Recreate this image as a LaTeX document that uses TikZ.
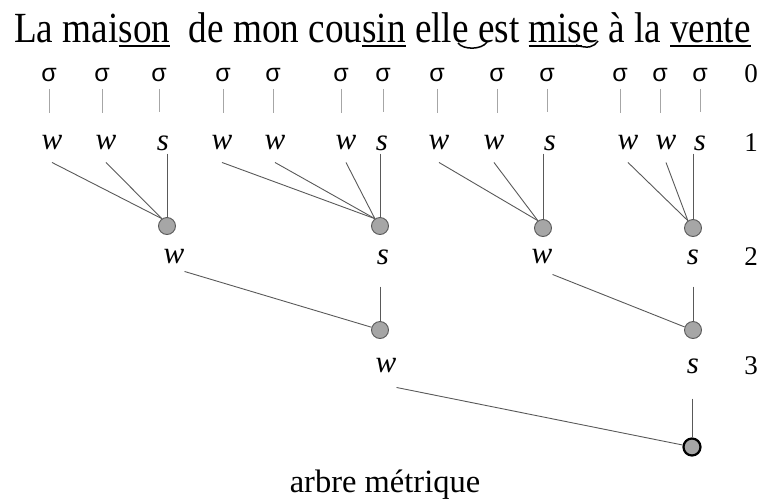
\documentclass[tikz,border=0pt]{standalone}
\usepackage{fontspec}
\usepackage{graphicx}
\setmainfont{Liberation Serif}
\newfontfamily\sigmafont{Liberation Sans}
\usetikzlibrary{calc}

\newcommand\souligne[1]{\setbox0\hbox{#1}\rlap{\rule[-5pt]{\wd0}{1.8pt}}\box0\relax}

\tikzset{
  syl/.style={font=\sigmafont\fontsize{25}{25}\selectfont, inner sep=0pt},
  lab/.style={font=\fontsize{31}{31}\selectfont\itshape, inner sep=0pt},
  lvl/.style={font=\fontsize{27}{27}\selectfont, inner sep=0pt},
  noeud/.style={circle, fill=black!35, draw=black!65, line width=0.9pt, minimum size=17pt, inner sep=0pt},
  racine/.style={noeud, draw=black, line width=2.2pt},
  barre/.style={draw=black!35, line width=1pt},
  arete/.style={draw=black!65, line width=0.9pt},
}

\begin{document}
\begin{tikzpicture}[x=1pt,y=-1pt]
\useasboundingbox (0,0) rectangle (761,499);

% la phrase
\node[anchor=base] (titre) at (382.5,42) {\fontsize{43}{43}\selectfont\scalebox{0.865}[1]{La mai\souligne{son}\ \ de mon cou\souligne{sin} elle est \souligne{mis}e à la \souligne{vente}}};
\draw[line width=1.5pt] (458,43) .. controls (463,50) and (482,50) .. (487,42);
\draw[line width=1.5pt] (576,45) .. controls (588,49) and (594,47) .. (598,41);

% niveau 0 : syllabes
\foreach \x [count=\i] in {49,102,159,223,273,341,383,437,497,547,620,660,700}
  \node[syl] (sig\i) at (\x,75) {σ};

% niveau 1
\foreach \x/\t [count=\i] in {52/w,106/w,163/s,222/w,275/w,346/w,382/s,439/w,494/w,550/s,628/w,666/w,700/s}
  \node[lab] (l\i) at (\x,143) {\t};

\foreach \i in {1,...,13}
  \draw[barre, shorten <=7pt, shorten >=23pt] (sig\i.south) -- (sig\i.south |- l\i.north);

% niveaux
\node[lvl] (n0) at (751,74) {0};
\node[lvl] (n1) at (751,143) {1};
\node[lvl] (n2) at (751,257) {2};
\node[lvl] (n3) at (751,366) {3};

% premiers noeuds
\node[noeud] (c11) at (167,226) {};
\node[noeud] (c12) at (380,226) {};
\node[noeud] (c13) at (543,228) {};
\node[noeud] (c14) at (693,228) {};

\foreach \a/\b in {l1/c11,l2/c11,l4/c12,l5/c12,l6/c12,l8/c13,l9/c13,l11/c14,l12/c14}
  \draw[arete] ([yshift=-12pt]\a.south) -- (\b.125);
\foreach \a/\b in {l3/c11,l7/c12,l10/c13,l13/c14}
  \draw[arete, shorten <=3pt] (\b |- \a.south) -- (\b.north);

% niveau 2
\node[lab] (m1) at (174,257) {w};
\node[lab] (m2) at (383,257) {s};
\node[lab] (m3) at (542,257) {w};
\node[lab] (m4) at (693,257) {s};

\node[noeud] (c21) at (380,330) {};
\node[noeud] (c22) at (693,330) {};

\draw[arete] ([yshift=-7pt]m1.south east) -- (c21.162);
\draw[arete] ([yshift=-10pt]m3.south east) -- (c22.160);
\draw[arete, shorten <=22pt] (c21 |- m2.south) -- (c21.north);
\draw[arete, shorten <=22pt] (c22 |- m4.south) -- (c22.north);

% niveau 3
\node[lab] (t1) at (386,366) {w};
\node[lab] (t2) at (693,366) {s};

\node[racine] (rac) at (692,447) {};

\draw[arete] ([yshift=-14pt]t1.south east) -- (rac.168);
\draw[arete, shorten <=25pt] (rac |- t2.south) -- (rac.north);

\node[anchor=base, font=\fontsize{32.5}{32.5}\selectfont] (legende) at (385,492) {arbre métrique};
\end{tikzpicture}
\end{document}
